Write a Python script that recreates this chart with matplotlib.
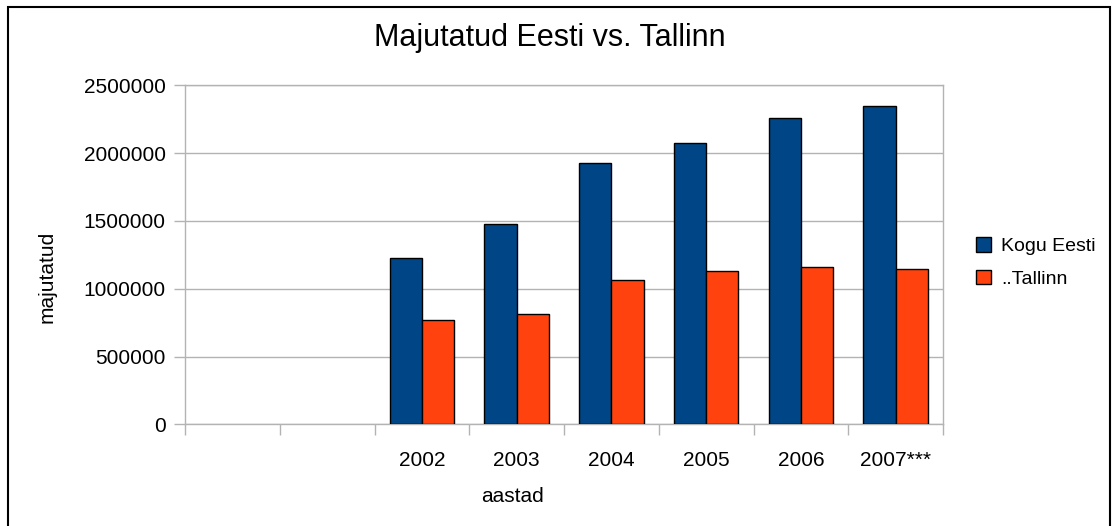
import matplotlib.pyplot as plt
import numpy as np
from matplotlib.patches import Rectangle

plt.rcParams['font.family'] = ['Liberation Sans', 'DejaVu Sans']

years = ['', '', '2002', '2003', '2004', '2005', '2006', '2007***']
kogu_eesti = [np.nan, np.nan, 1225000, 1475000, 1925000, 2075000, 2260000, 2345000]
tallinn = [np.nan, np.nan, 767000, 815000, 1064000, 1131000, 1162000, 1143000]

blue = '#004586'
orange = '#ff420e'
grid = '#b3b3b3'

W, H = 1120, 526
fig = plt.figure(figsize=(11.2, 5.26), dpi=100)
ax = fig.add_axes([185/W, 1-424.3/H, (943-185)/W, (424.3-85.3)/H])

x = np.arange(len(years)) + 0.5
w = 0.34
ax.bar(x - w/2, kogu_eesti, w, color=blue, edgecolor='black', linewidth=1, label='Kogu Eesti', zorder=3)
ax.bar(x + w/2, tallinn, w, color=orange, edgecolor='black', linewidth=1, label='..Tallinn', zorder=3)

ax.set_xlim(0, len(years))
ax.set_ylim(0, 2500000)
ax.set_yticks(np.arange(0, 2500001, 500000))
ax.set_yticklabels([str(v) for v in range(0, 2500001, 500000)])
ax.set_xticks(np.arange(0, len(years) + 1))
ax.set_xticklabels([])
ax.set_xticks(x, minor=True)
ax.set_xticklabels(years, minor=True)
ax.tick_params(axis='x', which='major', length=8, color=grid, width=1)
ax.tick_params(axis='x', which='minor', length=0, pad=19, labelsize=15)
ax.tick_params(axis='y', length=8, color=grid, width=1, labelsize=15, pad=6)

ax.yaxis.grid(True, color=grid, linewidth=1, zorder=0)
for s in ax.spines.values():
    s.set_color(grid)
    s.set_linewidth(1)

# axis titles placed like the original (not centred on the plot)
fig.text(47/W, 1-277/H, 'majutatud', fontsize=15, rotation=90, ha='center', va='center')
fig.text(512/W, 1-497/H, 'aastad', fontsize=15, ha='center', va='center')
fig.text(550/W, 1-38/H, 'Majutatud Eesti vs. Tallinn', fontsize=22, ha='center', va='center')

ax.legend(loc='center left', bbox_to_anchor=(1.02, 0.478), frameon=False, fontsize=14,
          handlelength=0.8, handleheight=0.8, handletextpad=0.5, labelspacing=0.75)

fig.patches.append(Rectangle((8/W, -0.01), (1110-8)/W, 1-7/H + 0.01, transform=fig.transFigure,
                             fill=False, edgecolor='black', linewidth=1.5))

fig.savefig('out.png', dpi=100)
